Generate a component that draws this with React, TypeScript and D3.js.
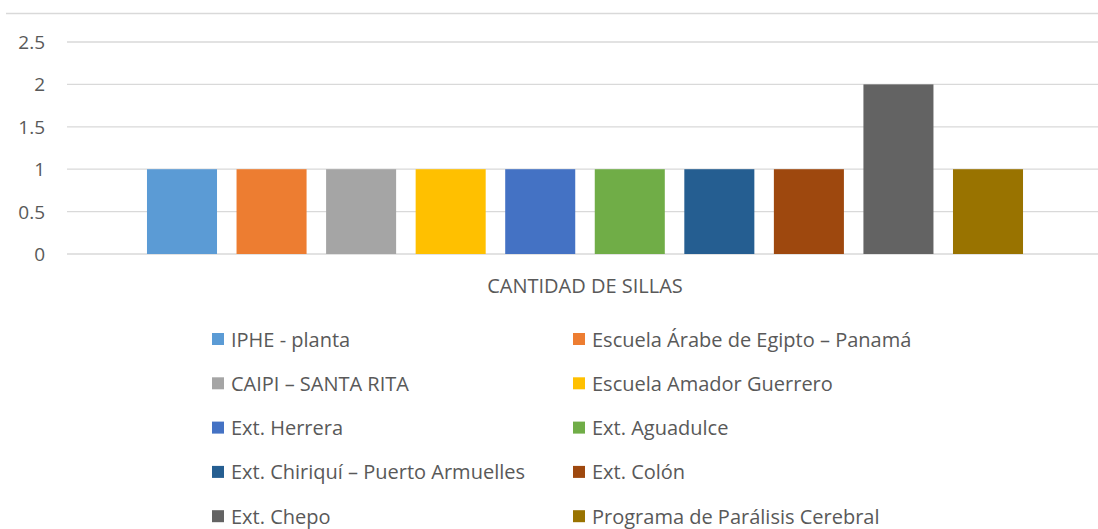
import React from "react";
import * as d3 from "d3";

const category = "CANTIDAD DE SILLAS";
const seriesNames = [
  "IPHE - planta",
  "Escuela Árabe de Egipto – Panamá",
  "CAIPI – SANTA RITA",
  "Escuela Amador Guerrero",
  "Ext. Herrera",
  "Ext. Aguadulce",
  "Ext. Chiriquí – Puerto Armuelles",
  "Ext. Colón",
  "Ext. Chepo",
  "Programa de Parálisis Cerebral",
];
const seriesValues = [1, 1, 1, 1, 1, 1, 1, 1, 2, 1];
const seriesColors = [
  "#5B9BD5",
  "#ED7D31",
  "#A5A5A5",
  "#FFC000",
  "#4472C4",
  "#70AD47",
  "#255E91",
  "#9E480E",
  "#636363",
  "#997300",
];
const yTicks = [0, 0.5, 1, 1.5, 2, 2.5];

const W = 1098;
const H = 529;
const FONT = "'Open Sans', sans-serif";
const TEXT = "#595959";

export default function App() {
  const plotLeft = 67;
  const plotRight = 1103;
  const y = d3.scaleLinear().domain([0, 2.5]).range([254, 42]);
  const x0 = d3
    .scaleBand<string>()
    .domain([category])
    .range([plotLeft, plotRight])
    .paddingInner(0)
    .paddingOuter(0.0913);
  const x1 = d3
    .scaleBand<string>()
    .domain(seriesNames)
    .range([0, x0.bandwidth()])
    .paddingInner(0.218)
    .paddingOuter(0);

  const legendRowY = (i: number) => 339 + 44.3 * Math.floor(i / 2);
  const legendColX = [212, 573];

  return (
    <svg
      width={W}
      height={H}
      style={{ position: "absolute", left: 0, top: 0, background: "#fff" }}
      fontFamily={FONT}
    >
      <rect x={0} y={0} width={W} height={H} fill="#fff" />
      <line x1={6} x2={W} y1={13.5} y2={13.5} stroke="#d9d9d9" strokeWidth={1.5} />
      {yTicks.map((t) => (
        <g key={t}>
          <line
            x1={plotLeft}
            x2={plotRight}
            y1={y(t)}
            y2={y(t)}
            stroke="#d9d9d9"
            strokeWidth={1.3}
          />
          <text
            x={45}
            y={y(t)}
            textAnchor="end"
            dominantBaseline="central"
            fontSize={19}
            fill={TEXT}
          >
            {String(t)}
          </text>
        </g>
      ))}
      <g transform={`translate(${x0(category)},0)`}>
        {seriesNames.map((s, i) => (
          <rect
            key={s}
            x={x1(s)}
            y={y(seriesValues[i])}
            width={x1.bandwidth()}
            height={y(0) - y(seriesValues[i])}
            fill={seriesColors[i]}
          />
        ))}
      </g>
      <text
        x={(x0(category) as number) + x0.bandwidth() / 2}
        y={285}
        textAnchor="middle"
        dominantBaseline="central"
        fontSize={20}
        fill={TEXT}
      >
        {category}
      </text>
      {seriesNames.map((s, i) => {
        const cx = legendColX[i % 2];
        const cy = legendRowY(i);
        return (
          <g key={s}>
            <rect x={cx} y={cy - 6} width={12} height={12} fill={seriesColors[i]} />
            <text
              x={cx + 19}
              y={cy}
              dominantBaseline="central"
              fontSize={20}
              fill={TEXT}
            >
              {s}
            </text>
          </g>
        );
      })}
    </svg>
  );
}
